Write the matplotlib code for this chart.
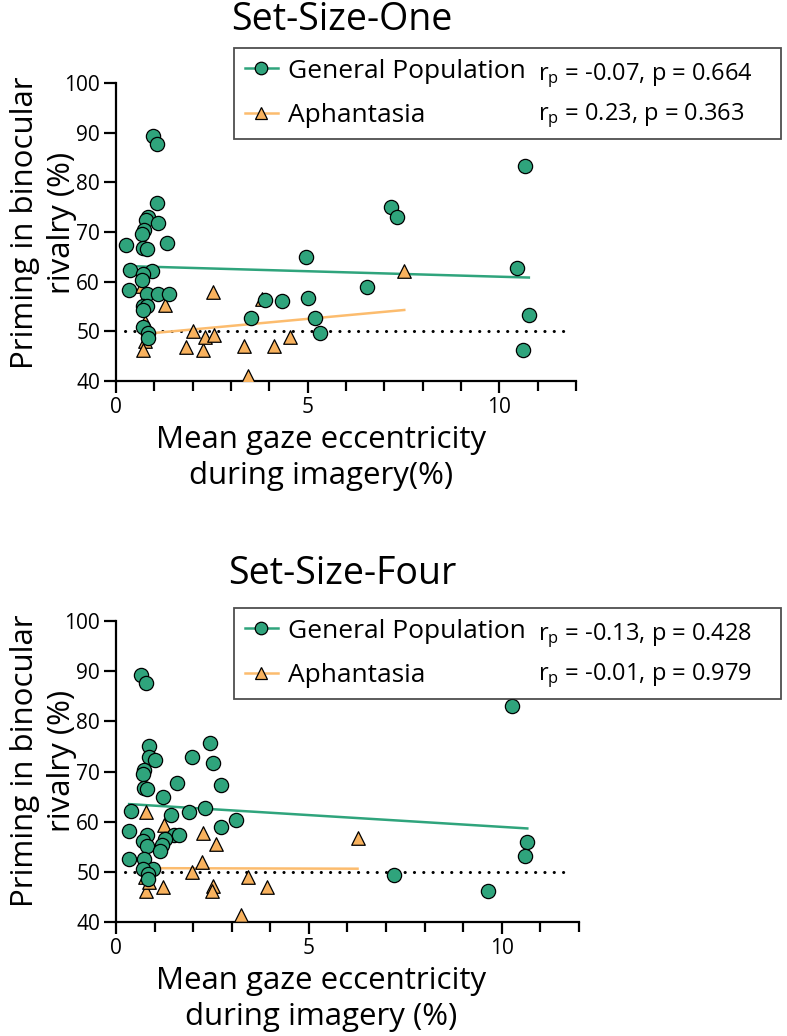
import matplotlib
matplotlib.use("Agg")
import matplotlib.pyplot as plt
from matplotlib.lines import Line2D
import numpy as np

plt.rcParams["font.family"] = ["Open Sans", "DejaVu Sans"]
plt.rcParams["mathtext.default"] = "regular"

# ---- data ----
# Set-Size-One
one_gen_x = [0.97, 1.08, 1.06, 0.84, 0.78, 1.10, 0.74, 0.67, 0.26, 1.34,
             0.70, 0.82, 4.96, 0.37, 0.93, 0.71, 0.67, 0.35, 0.80, 1.10,
             1.39, 6.54, 3.89, 4.33, 5.02, 0.70, 0.80, 0.71, 3.52, 5.20,
             0.71, 0.83, 0.83, 5.31, 7.18, 7.33, 10.68, 10.46, 10.77, 10.61]
one_gen_y = [89.4, 87.7, 75.8, 73.1, 72.4, 71.8, 70.4, 69.5, 67.3, 67.8,
             66.7, 66.5, 65.0, 62.3, 62.1, 61.5, 60.4, 58.4, 57.5, 57.5,
             57.5, 59.0, 56.3, 56.1, 56.7, 55.2, 55.2, 54.3, 52.7, 52.7,
             50.8, 49.6, 48.6, 49.6, 75.1, 73.1, 83.2, 62.7, 53.2, 46.3]
one_aph_x = [0.67, 1.28, 2.54, 0.76, 0.76, 0.71, 2.02, 1.83, 2.26, 2.32,
             2.56, 3.35, 4.13, 4.54, 3.45, 3.82, 7.52]
one_aph_y = [59.1, 55.4, 57.9, 51.8, 48.1, 46.2, 50.0, 46.9, 46.2, 48.9,
             49.2, 47.0, 47.1, 48.9, 41.0, 56.6, 62.1]

# Set-Size-Four
four_gen_x = [0.65, 0.78, 0.86, 2.43, 0.86, 1.01, 1.98, 2.52, 0.73, 0.69,
              0.72, 0.81, 1.58, 2.73, 1.21, 0.38, 2.30, 1.89, 1.42, 3.10,
              0.34, 2.73, 0.81, 1.50, 1.63, 1.27, 0.69, 0.81, 1.18, 1.14,
              0.34, 0.73, 0.95, 0.71, 0.84, 0.84, 7.20, 10.27, 10.66, 10.59,
              9.65]
four_gen_y = [89.3, 87.7, 75.0, 75.7, 72.9, 72.3, 72.9, 71.7, 70.3, 69.5,
              66.7, 66.5, 67.7, 67.3, 64.9, 62.2, 62.7, 61.9, 61.3, 60.3,
              58.2, 59.0, 57.3, 57.3, 57.3, 56.5, 56.1, 55.1, 55.3, 54.2,
              52.5, 52.5, 50.5, 50.5, 49.5, 48.5, 49.3, 83.0, 56.0, 53.1,
              46.2]
four_aph_x = [0.78, 1.25, 2.26, 2.58, 2.24, 1.96, 3.42, 2.52, 2.50, 3.91,
              1.21, 0.78, 0.86, 0.74, 3.25, 6.26]
four_aph_y = [62.0, 59.3, 57.8, 55.5, 52.0, 50.0, 49.0, 47.2, 46.1, 47.0,
              47.0, 46.1, 48.0, 48.9, 41.3, 56.7]

# regression lines (slope, intercept) as drawn
one_gen_fit = [-0.22, 63.2]
one_aph_fit = [0.71, 48.96]
four_gen_fit = [-0.47, 63.66]
four_aph_fit = [-0.02, 50.75]

one_stats = ["r$_p$ = -0.07, p = 0.664", "r$_p$ = 0.23, p = 0.363"]
four_stats = ["r$_p$ = -0.13, p = 0.428", "r$_p$ = -0.01, p = 0.979"]

groups = ["General Population", "Aphantasia"]
chance = 50

green = "#2fa47c"
orange = "#f8b25e"
orange_line = "#fcbc6e"

fig = plt.figure(figsize=(7.87, 10.36), dpi=100)
W, H = 787, 1036


def panel(rect, title, gx, gy, ax_, ay, gfit, afit, stats, xlab, title_y, leg_top, base1, base2):
    l, t, r, b = rect
    ax = fig.add_axes([l / W, 1 - b / H, (r - l) / W, (b - t) / H])
    hpx = b - t
    wpx = r - l

    ax.set_xlim(0, 12)
    ax.set_ylim(40, 100)
    ax.spines["top"].set_visible(False)
    ax.spines["right"].set_visible(False)
    for s in ["left", "bottom"]:
        ax.spines[s].set_linewidth(1.6)
    ax.set_xticks([0, 5, 10])
    ax.set_xticks(np.arange(0, 13, 1), minor=True)
    ax.set_yticks(np.arange(40, 101, 10))
    ax.tick_params(which="both", direction="out", width=1.6, labelsize=15, pad=3)
    ax.tick_params(which="major", length=8.5)
    ax.tick_params(which="minor", length=7)

    ax.axhline(chance, xmin=0.02, xmax=0.985, color="k", lw=2.2,
               linestyle=(0, (0.05, 3.0)), dash_capstyle="round", zorder=1)

    gx = np.array(gx)
    ax_ = np.array(ax_)
    xs = np.array([gx.min(), gx.max()])
    ax.plot(xs, gfit[0] * xs + gfit[1], color=green, lw=1.8, zorder=2)
    xs = np.array([ax_.min(), ax_.max()])
    ax.plot(xs, afit[0] * xs + afit[1], color=orange_line, lw=1.8, zorder=2)

    ax.scatter(ax_, ay, marker="^", s=95, color=orange, edgecolor="k", linewidth=0.9, zorder=3)
    ax.scatter(gx, gy, marker="o", s=105, color=green, edgecolor="k", linewidth=0.9, zorder=4)

    ax.text((342 - l) / wpx, (b - title_y) / hpx, title, transform=ax.transAxes,
            ha="center", va="baseline", fontsize=27)

    handles = [
        Line2D([], [], color=green, lw=1.8, marker="o", markersize=9,
               markerfacecolor=green, markeredgecolor="k", markeredgewidth=0.9),
        Line2D([], [], color=orange_line, lw=1.8, marker="^", markersize=9,
               markerfacecolor=orange, markeredgecolor="k", markeredgewidth=0.9),
    ]
    x0 = (234 - l) / wpx
    x1 = (781 - l) / wpx
    y_top = (b - leg_top) / hpx
    leg = ax.legend(handles, groups, loc="upper left", mode="expand",
                    bbox_to_anchor=(x0, 0, x1 - x0, y_top),
                    fontsize=19, frameon=True, fancybox=False, borderpad=0.4,
                    handlelength=1.25, handletextpad=0.4, labelspacing=0.75,
                    borderaxespad=0)
    leg.get_frame().set_edgecolor("#222222")
    leg.get_frame().set_linewidth(1.3)
    leg.set_zorder(5)

    for s, by in zip(stats, [base1, base2]):
        ax.text((538 - l) / wpx, (b - by) / hpx, s, transform=ax.transAxes,
                ha="left", va="baseline", fontsize=17, zorder=6)

    ax.set_ylabel("Priming in binocular\nrivalry (%)", fontsize=22.5, linespacing=1.3)
    ax.yaxis.set_label_coords((77 - l) / wpx, (b - 223 - (t - 83)) / hpx)
    ax.set_xlabel(xlab, fontsize=22.5, linespacing=1.28)
    ax.xaxis.set_label_coords((321 - l) / wpx, -44 / hpx)
    return ax


panel((116, 83, 576, 381), "Set-Size-One", one_gen_x, one_gen_y, one_aph_x, one_aph_y,
      one_gen_fit, one_aph_fit, one_stats, "Mean gaze eccentricity\nduring imagery(%)",
      30, 48, 80, 120)
panel((116, 621, 579, 922), "Set-Size-Four", four_gen_x, four_gen_y, four_aph_x, four_aph_y,
      four_gen_fit, four_aph_fit, four_stats, "Mean gaze eccentricity\nduring imagery (%)",
      584, 608, 640, 680)

fig.savefig("out.png", dpi=100)
